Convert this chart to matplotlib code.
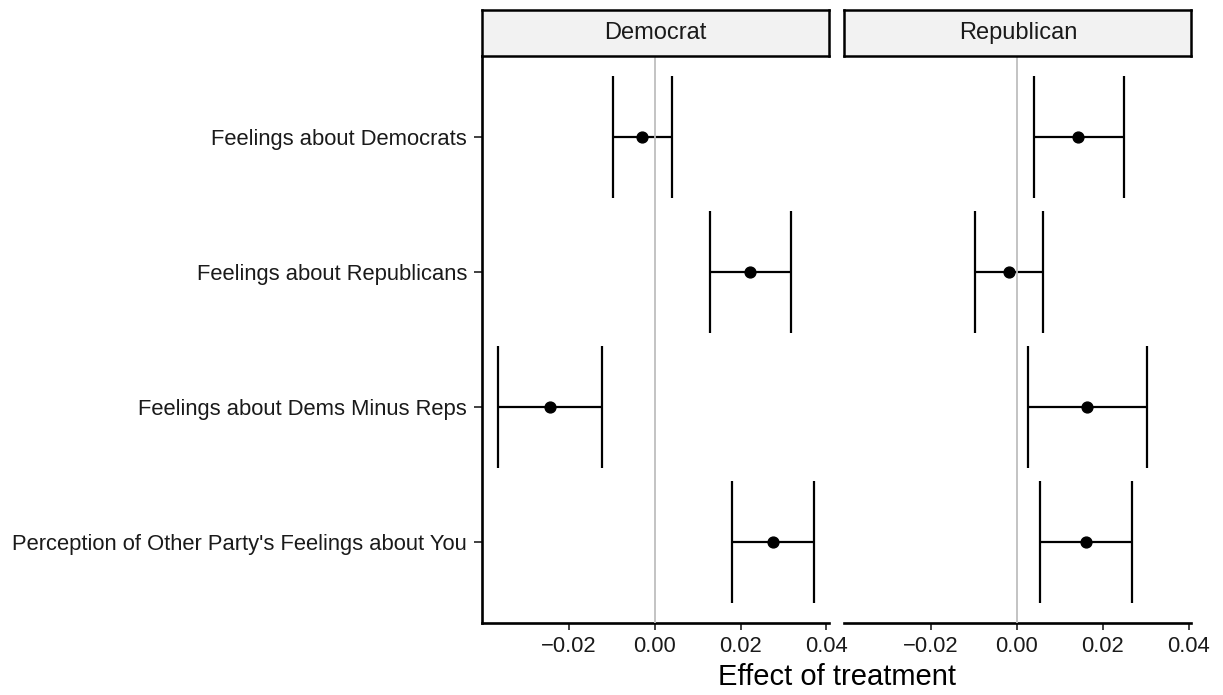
import matplotlib
matplotlib.use("Agg")
import matplotlib.pyplot as plt
import numpy as np

plt.rcParams['font.family'] = ['Liberation Sans', 'DejaVu Sans']

# datos
outcomes = ['Feelings about Democrats', 'Feelings about Republicans',
            'Feelings about Dems Minus Reps',
            "Perception of Other Party's Feelings about You"]
panels = ['Democrat', 'Republican']

dem_est = [-0.0029, 0.0223, -0.0245, 0.0275]
dem_lo = [-0.0098, 0.0128, -0.0365, 0.0180]
dem_hi = [0.0041, 0.0318, -0.0124, 0.0370]

rep_est = [0.0142, -0.0019, 0.0163, 0.0160]
rep_lo = [0.0039, -0.0097, 0.0026, 0.0054]
rep_hi = [0.0249, 0.0060, 0.0302, 0.0268]

xticks = [-0.02, 0.00, 0.02, 0.04]
xticklabels = ['\u22120.02', '0.00', '0.02', '0.04']

W, H = 1223, 695
fig = plt.figure(figsize=(W / 100, H / 100), dpi=100)

# posiciones de los paneles en pixeles (izq, der)
panel_px = [(482.3, 829.3), (844.3, 1191.5)]
top_px, bottom_px = 56, 623.3
strip_top = 10

ypos = np.arange(len(outcomes))[::-1] + 1
all_vals = dem_lo + dem_hi + rep_lo + rep_hi
rng = max(all_vals) - min(all_vals)
xlim = (min(all_vals) - 0.05 * rng, max(all_vals) + 0.05 * rng)

datos = [(dem_est, dem_lo, dem_hi), (rep_est, rep_lo, rep_hi)]

for i, (name, (x0, x1)) in enumerate(zip(panels, panel_px)):
    ax = fig.add_axes([x0 / W, (H - bottom_px) / H, (x1 - x0) / W, (bottom_px - top_px) / H])
    est, lo, hi = datos[i]

    # barras de error horizontales con extremos
    ax.hlines(ypos, lo, hi, color='black', lw=1.6, zorder=2)
    ax.vlines(lo, ypos - 0.45, ypos + 0.45, color='black', lw=1.6, zorder=2)
    ax.vlines(hi, ypos - 0.45, ypos + 0.45, color='black', lw=1.6, zorder=2)
    ax.axvline(0, color='#BEBEBE', lw=1.3, zorder=3)
    ax.plot(est, ypos, 'o', color='black', ms=7.8, zorder=4)

    ax.set_xlim(xlim)
    ax.set_ylim(0.4, 4.6)
    ax.set_xticks(xticks)
    ax.set_xticklabels(xticklabels)
    ax.tick_params(axis='x', length=5, width=1.3, color='#333333', pad=4,
                   labelsize=15.8, labelcolor='#1A1A1A')

    for s in ['top', 'right']:
        ax.spines[s].set_visible(False)
    ax.spines['bottom'].set_linewidth(1.9)

    if i == 0:
        ax.set_yticks(ypos)
        ax.set_yticklabels(outcomes)
        ax.tick_params(axis='y', length=5.5, width=1.3, color='#333333', pad=5.5,
                       labelsize=15.8, labelcolor='#1A1A1A')
        ax.spines['left'].set_linewidth(1.9)
    else:
        ax.set_yticks([])
        ax.spines['left'].set_visible(False)

    # tira del facet
    sax = fig.add_axes([x0 / W, (H - top_px) / H, (x1 - x0) / W, (top_px - strip_top) / H])
    sax.set_facecolor('#F2F2F2')
    sax.set_xticks([])
    sax.set_yticks([])
    for s in sax.spines.values():
        s.set_linewidth(1.8)
        s.set_color('black')
    sax.text(0.5, 0.5, name, ha='center', va='center', fontsize=17,
             color='#1A1A1A', transform=sax.transAxes)

fig.text((482.3 + 1191.5) / 2 / W, (H - 685) / H, 'Effect of treatment',
         ha='center', va='baseline', fontsize=21, color='black')

fig.savefig('out.png', dpi=100)
